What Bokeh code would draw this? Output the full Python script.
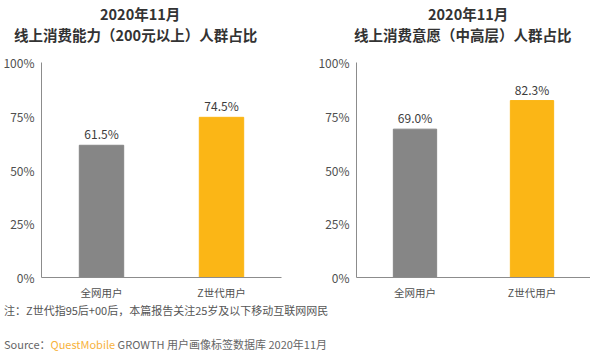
from bokeh.plotting import figure
from bokeh.layouts import column, row
from bokeh.models import (ColumnDataSource, NumeralTickFormatter, FixedTicker,
                          Div, Range1d)
from bokeh.core.properties import value
from bokeh.embed import file_html
from bokeh.resources import INLINE

FONT = "Noto Sans CJK SC"

categories = ["全网用户", "Z世代用户"]
title_top = "2020年11月"
left_title = "线上消费能力（200元以上）人群占比"
right_title = "线上消费意愿（中高层）人群占比"
left_values = [0.615, 0.745]
right_values = [0.690, 0.823]
bar_colors = ["#868686", "#FBB616"]
y_ticks = [0, 0.25, 0.5, 0.75, 1.0]
note_text = "注：Z世代指95后+00后，本篇报告关注25岁及以下移动互联网网民"
source_brand = "QuestMobile"
source_rest = "GROWTH 用户画像标签数据库 2020年11月"


def make_chart(values, frame_w, border_left, border_right):
    labels = ["{:.1f}%".format(v * 100) for v in values]
    src = ColumnDataSource(dict(cat=categories, val=values, color=bar_colors, label=labels))
    p = figure(x_range=categories, y_range=Range1d(0, 1.0),
               frame_width=frame_w, frame_height=215,
               output_backend="svg", toolbar_location=None,
               min_border_left=border_left, min_border_right=border_right,
               min_border_top=12, min_border_bottom=30)
    p.vbar(x="cat", top="val", width=0.37, color="color", source=src)
    p.text(x="cat", y="val", text="label", source=src, y_offset=-3,
           text_align="center", text_baseline="bottom",
           text_font_size="12px", text_color="#3c3c3c", text_font=value(FONT))
    p.xgrid.visible = False
    p.ygrid.visible = False
    p.outline_line_color = None
    p.background_fill_color = "white"
    p.border_fill_color = "white"

    p.yaxis.ticker = FixedTicker(ticks=y_ticks)
    p.yaxis.formatter = NumeralTickFormatter(format="0%")
    for ax in (p.xaxis[0], p.yaxis[0]):
        ax.axis_line_color = "#8c8c8c"
        ax.major_tick_line_color = None
        ax.minor_tick_line_color = None
        ax.major_tick_out = 0
        ax.major_tick_in = 0
        ax.minor_tick_out = 0
        ax.minor_tick_in = 0
        ax.axis_label_standoff = 0
        ax.major_label_text_color = "#505050"
        ax.major_label_text_font = FONT
    p.yaxis.major_label_text_font_size = "12px"
    p.yaxis.major_label_standoff = 7
    p.xaxis.major_label_text_font_size = "10.5px"
    p.xaxis.major_label_standoff = 7
    return p


p1 = make_chart(left_values, 240, 35, 17)
p2 = make_chart(right_values, 234, 58, 0)

TSTYLE = ("position:absolute;white-space:nowrap;font-family:'Noto Sans CJK SC';"
          "font-size:14.5px;font-weight:bold;color:#333333;line-height:15px;")
header = Div(text=(
    '<div style="position:relative;width:584px;height:43px;">'
    '<span style="' + TSTYLE + 'left:100px;top:-1px;">' + title_top + '</span>'
    '<span style="' + TSTYLE + 'left:14px;top:20px;">' + left_title + '</span>'
    '<span style="' + TSTYLE + 'left:428px;top:-1px;">' + title_top + '</span>'
    '<span style="' + TSTYLE + 'left:354px;top:20px;">' + right_title + '</span>'
    '</div>'), width=584, height=43, margin=(7, 0, 0, 0))

footer = Div(text=(
    '<div style="font-family:\'Noto Sans CJK SC\';font-size:11px;color:#555555;'
    'line-height:11px;padding-left:4px;">'
    '<div>' + note_text + '</div>'
    '<div style="margin-top:23px;color:#666666;">Source：<span style="color:#F7B23B;">'
    + source_brand + '</span> ' + source_rest + '</div></div>'),
    width=584, height=43, margin=(-2, 0, 0, 0))

layout = column(header, row(p1, p2, spacing=0), footer, spacing=0)

with open("out.html", "w") as f:
    f.write(file_html(layout, INLINE))
